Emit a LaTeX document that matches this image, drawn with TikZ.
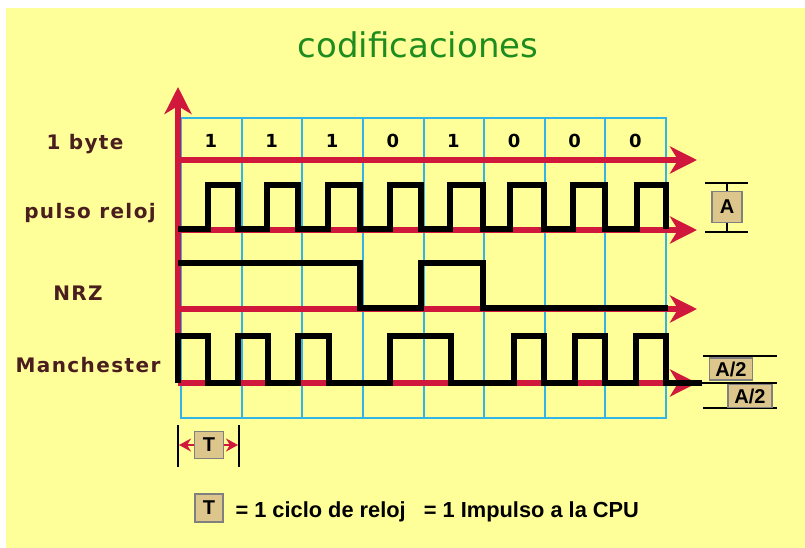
\documentclass[tikz,border=0pt]{standalone}
\usepackage{fontspec}
\setmainfont{DejaVu Sans}
\newfontfamily\lblfont[LetterSpace=7]{DejaVu Sans}
\newfontfamily\legfont{Liberation Sans}
\usetikzlibrary{arrows.meta}
\definecolor{paper}{HTML}{FFFF99}
\definecolor{axisred}{HTML}{D0183C}
\definecolor{gridblue}{HTML}{33B4E6}
\definecolor{titlegreen}{HTML}{1E8C1E}
\definecolor{lblbrown}{HTML}{4A1E1E}
\definecolor{tagtan}{HTML}{DCC68C}
\tikzset{
  redaxis/.style={draw=axisred,line width=5.5pt,-{Stealth[length=27pt,width=27pt,inset=8pt]}},
  redtip/.style={draw=axisred,line width=2pt,-{Stealth[length=12pt,width=13pt]}},
  signal/.style={line width=5.5pt},
  gridline/.style={draw=gridblue,line width=2pt},
  dimline/.style={line width=2.5pt},
  tagbox/.style={draw=black!50,fill=tagtan,line width=1.2pt,inner sep=0pt,
    font=\legfont\bfseries\fontsize{20}{20}\selectfont},
  rowlabel/.style={text=lblbrown,anchor=base,font=\lblfont\bfseries\fontsize{20}{20}\selectfont},
  bit/.style={anchor=base,font=\bfseries\fontsize{18}{18}\selectfont}
}
\begin{document}
\begin{tikzpicture}[x=1pt,y=-1pt]
  \useasboundingbox (0,0) rectangle (805,548);
  \fill[white] (0,0) rectangle (805,548);
  \fill[paper] (6,8) rectangle (805,548);
  \node[anchor=base,text=titlegreen,font=\fontsize{34}{34}\selectfont] (title) at (418,58) {codificaciones};
  \draw[gridline] (181,118) rectangle (666,418);
  \foreach \i in {1,...,7}{\draw[gridline] ({181+60.625*\i},118) -- ({181+60.625*\i},418);}
  \coordinate (o) at (178,383);
  \draw[redaxis] (o) -- (178,87);
  \foreach \y in {160,230,309,383}{\draw[redaxis] (178,\y) -- (697,\y);}
  \node[rowlabel] (byte) at (85,150) {1 byte};
  \node[rowlabel] (clk) at (90,218) {pulso reloj};
  \node[rowlabel] (nrz) at (78,300) {NRZ};
  \node[rowlabel] (man) at (88,372) {Manchester};
  \foreach \b [count=\i from 0] in {1,1,1,0,1,0,0,0}{\node[bit] (b\i) at ({211+60.625*\i},148) {\b};}
  \draw[signal] (178,229) \foreach \r/\f in {208/238,267/298,328/360,390/421,450/483,510/544,573/605,637/666}{ -- (\r,229) -- (\r,185) -- (\f,185) -- (\f,229)};
  \draw[signal] (178,263) -- (360,263) -- (360,308) -- (421,308) -- (421,263) -- (483,263) -- (483,308) -- (668,308);
  \draw[signal] (o) -- (178,336) -- (208,336) -- (208,383) -- (238,383) -- (238,336) -- (268,336) -- (268,383)
    -- (298,383) -- (298,336) -- (329,336) -- (329,383) -- (390,383) -- (390,336) -- (451,336) -- (451,383)
    -- (514,383) -- (514,336) -- (544,336) -- (544,383) -- (575,383) -- (575,336) -- (605,336) -- (605,383)
    -- (636,383) -- (636,336) -- (666,336) -- (666,383) -- (702,383);
  \draw[dimline] (705,183) -- (748,183);
  \draw[dimline] (705,232) -- (748,232);
  \coordinate (atop) at (727,183);
  \coordinate (abot) at (727,232);
  \node[tagbox,minimum width=30pt,minimum height=31pt] (amp) at (727,207) {A};
  \draw[dimline] (amp.north) -- (atop);
  \draw[dimline] (amp.south) -- (abot);
  \draw[dimline] (703,356) -- (777,356);
  \draw[dimline] (702,383) -- (777,383);
  \draw[dimline] (703,408) -- (777,408);
  \node[tagbox,minimum width=43pt,minimum height=22pt] (halfup) at (731,369) {A/2};
  \node[tagbox,minimum width=44pt,minimum height=23pt] (halfdn) at (750,396) {A/2};
  \draw[dimline] (178,425) -- (178,467);
  \draw[dimline] (239,425) -- (239,467);
  \coordinate (tl) at (179,445);
  \coordinate (tr) at (238,445);
  \node[tagbox,minimum width=29pt,minimum height=27pt] (tper) at (209,445) {T};
  \draw[redtip] (tper.west) -- (tl);
  \draw[redtip] (tper.east) -- (tr);
  \node[tagbox,minimum width=28pt,minimum height=28pt] (tkey) at (209,508) {T};
  \node[anchor=base west,font=\legfont\bfseries\fontsize{21.8}{22}\selectfont] (key) at (232,517) {= 1 ciclo de reloj \ \ = 1 Impulso a la CPU};
\end{tikzpicture}
\end{document}
